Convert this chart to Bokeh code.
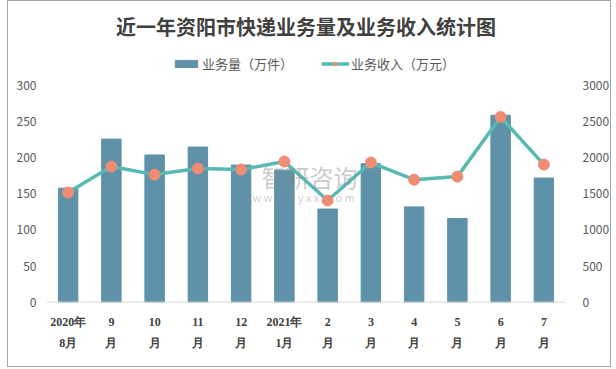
from bokeh.plotting import figure
from bokeh.models import (Range1d, LinearAxis, FixedTicker, Legend, LegendItem,
                          Label, LabelSet, Span, ColumnDataSource, FactorRange)
from bokeh.embed import file_html
from bokeh.resources import INLINE

# ---- data ----
months = ["2020年8月", "9月", "10月", "11月", "12月", "2021年1月",
          "2月", "3月", "4月", "5月", "6月", "7月"]
label_top = ["2020年", "9", "10", "11", "12", "2021年", "2", "3", "4", "5", "6", "7"]
label_bottom = ["8月", "月", "月", "月", "月", "1月", "月", "月", "月", "月", "月", "月"]
volume = [158, 226, 204, 215, 190, 183, 129, 192, 132, 116, 259, 172]        # 万件
revenue = [1520, 1880, 1768, 1852, 1838, 1949, 1409, 1935, 1698, 1740, 2567, 1907]  # 万元
left_ticks = [0, 50, 100, 150, 200, 250, 300]
right_ticks = [0, 500, 1000, 1500, 2000, 2500, 3000]

FONT = "Noto Sans CJK SC"

src = ColumnDataSource(dict(m=months, v=volume, r=revenue, t1=label_top, t2=label_bottom,
                            z=[0] * len(months)))

# frame extends above / below the 0..300 band so legend and category labels fit inside it
p = figure(x_range=FactorRange(*months), y_range=Range1d(-81, 358.6),
           width=602, height=365, output_backend="svg", toolbar_location=None,
           min_border_left=38, min_border_right=42,
           min_border_top=42, min_border_bottom=8)
p.extra_y_ranges = {"y2": Range1d(-810, 3586)}
p.x_range.range_padding = 0
p.styles = {"border": "1px solid #a6a6a6", "margin-left": "7px",
            "box-sizing": "content-box"}

bars = p.vbar(x="m", top="v", width=0.45, source=src, color="#5f91a8")
line = p.line(x="m", y="r", source=src, y_range_name="y2", line_color="#56bab2", line_width=3.5)
dots = p.scatter(x="m", y="r", source=src, y_range_name="y2", size=11,
                 fill_color="#f08c73", line_color="#f08c73")

p.xgrid.visible = False
p.ygrid.visible = False
p.outline_line_color = None

p.title.text = "近一年资阳市快递业务量及业务收入统计图"
p.title.text_font = FONT
p.title.text_font_size = "20px"
p.title.text_font_style = "bold"
p.title.text_color = "#404040"
p.title.align = "center"
p.title.standoff = 5

# x axis: baseline + two-line category labels
p.xaxis.visible = False
p.add_layout(Span(location=0, dimension="width", line_color="#d9d9d9", line_width=1))
for col, off in (("t1", -20), ("t2", -41)):
    p.add_layout(LabelSet(x="m", y="z", text=col, source=src, y_offset=off,
                          text_align="center", text_baseline="middle",
                          text_font=FONT, text_font_style="bold", text_font_size="12px",
                          text_color="#404040"))

# left axis
ya = p.yaxis[0]
ya.ticker = FixedTicker(ticks=left_ticks)
ya.axis_line_color = None
ya.major_tick_line_color = None
ya.minor_tick_line_color = None
ya.major_label_text_font = FONT
ya.major_label_text_font_size = "12px"
ya.major_label_text_color = "#595959"
ya.major_label_standoff = 4

ra = LinearAxis(y_range_name="y2", ticker=FixedTicker(ticks=right_ticks))
ra.axis_line_color = None
ra.major_tick_line_color = None
ra.minor_tick_line_color = None
ra.major_label_text_font = FONT
ra.major_label_text_font_size = "12px"
ra.major_label_text_color = "#595959"
ra.major_label_standoff = 11
p.add_layout(ra, "right")

# watermark
p.add_layout(Label(x=4.97, y=174, text="智研咨询", text_font=FONT, text_font_size="24px",
                   text_color="#8c8c8c", text_alpha=0.45, text_baseline="middle"))
p.add_layout(Label(x=4.5, y=146, text="w w w . c h y x x . c o m", text_font=FONT,
                   text_font_size="11px", text_color="#8c8c8c", text_alpha=0.45,
                   text_baseline="middle"))

legend = Legend(items=[LegendItem(label="业务量（万件）", renderers=[bars]),
                       LegendItem(label="业务收入（万元）", renderers=[line, dots])],
                orientation="horizontal", location=(126, 287),
                label_text_font=FONT, label_text_font_size="13px", label_text_color="#595959",
                glyph_width=28, glyph_height=9, label_standoff=2, spacing=28,
                border_line_color=None, background_fill_alpha=0, padding=2, margin=0)
p.add_layout(legend, "center")

open("out.html", "w").write(file_html(p, INLINE))
